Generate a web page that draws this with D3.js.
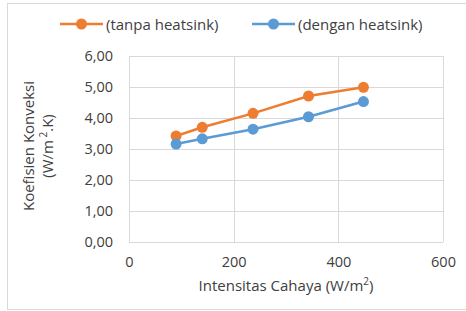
<!DOCTYPE html>
<html>
<head>
<meta charset="utf-8">
<script src="https://cdn.jsdelivr.net/npm/d3@7"></script>
<style>
  body { margin: 0; background: #fff; }
  text { font-family: "Open Sans", "Liberation Sans", sans-serif; fill: #404040; }
</style>
</head>
<body>
<svg id="chart" width="466" height="311"></svg>
<script>
// data
var intensitas = [90, 140, 237, 343, 448];
var tanpaHeatsink = [3.42, 3.70, 4.15, 4.71, 4.99];
var denganHeatsink = [3.16, 3.33, 3.64, 4.04, 4.53];
var seriesNames = ["(tanpa heatsink)", "(dengan heatsink)"];
var seriesColors = ["#ED7D31", "#5B9BD5"];
var xTicks = [0, 200, 400, 600];
var yTicks = [0, 1, 2, 3, 4, 5, 6];

var margin = { top: 56, right: 23, bottom: 69, left: 129 };
var width = 466 - margin.left - margin.right;
var height = 311 - margin.top - margin.bottom;

var svg = d3.select("#chart");

// outer chart border
svg.append("rect")
    .attr("x", 7.5).attr("y", 3.5)
    .attr("width", 470).attr("height", 306)
    .attr("fill", "none").attr("stroke", "#d9d9d9");

var g = svg.append("g").attr("transform", "translate(" + margin.left + "," + margin.top + ")");

var x = d3.scaleLinear().domain([0, 600]).range([0, width]);
var y = d3.scaleLinear().domain([0, 6]).range([height, 0]);

// gridlines
g.append("g").selectAll("line").data(yTicks).enter().append("line")
    .attr("x1", 0).attr("x2", width)
    .attr("y1", function (d) { return Math.round(y(d)) + 0.5; })
    .attr("y2", function (d) { return Math.round(y(d)) + 0.5; })
    .attr("stroke", "#d9d9d9");
g.append("g").selectAll("line").data(xTicks).enter().append("line")
    .attr("y1", 0).attr("y2", height)
    .attr("x1", function (d) { return Math.round(x(d)) + 0.5; })
    .attr("x2", function (d) { return Math.round(x(d)) + 0.5; })
    .attr("stroke", "#d9d9d9");

// axes (labels only)
var yAxis = g.append("g")
    .call(d3.axisLeft(y).tickValues(yTicks).tickSize(0).tickPadding(16)
        .tickFormat(function (d) { return d3.format(".2f")(d).replace(".", ","); }));
var xAxis = g.append("g")
    .attr("transform", "translate(0," + height + ")")
    .call(d3.axisBottom(x).tickValues(xTicks).tickSize(0).tickPadding(15));
[yAxis, xAxis].forEach(function (a) {
    a.select(".domain").remove();
    a.selectAll("text").attr("font-size", 14.5).attr("fill", "#404040")
        .style("font-family", "'Open Sans', 'Liberation Sans', sans-serif");
});

// series
var series = [tanpaHeatsink, denganHeatsink];
var line = d3.line()
    .x(function (d, i) { return x(intensitas[i]); })
    .y(function (d) { return y(d); });

series.forEach(function (vals, k) {
    g.append("path").datum(vals)
        .attr("d", line)
        .attr("fill", "none")
        .attr("stroke", seriesColors[k])
        .attr("stroke-width", 2.5);
    g.selectAll(".pt" + k).data(vals).enter().append("circle")
        .attr("class", "pt" + k)
        .attr("cx", function (d, i) { return x(intensitas[i]); })
        .attr("cy", function (d) { return y(d); })
        .attr("r", 5.5)
        .attr("fill", seriesColors[k]);
});

// axis titles
svg.append("text")
    .attr("x", 286).attr("y", 291)
    .attr("text-anchor", "middle").attr("font-size", 15)
    .html("Intensitas Cahaya (W/m<tspan dy='-6' font-size='10'>2</tspan><tspan dy='6'>)</tspan>");

var yt = svg.append("text")
    .attr("transform", "translate(30,146) rotate(-90)")
    .attr("text-anchor", "middle").attr("font-size", 15);
yt.append("tspan").attr("x", 0).attr("y", 4).text("Koefisien Konveksi");
yt.append("tspan").attr("x", 0).attr("y", 23).html("(W/m<tspan dy='-6' font-size='10'> 2</tspan><tspan dy='6'>.K)</tspan>");

// legend
var legendX = [60, 252];
seriesNames.forEach(function (name, k) {
    var lg = svg.append("g").attr("transform", "translate(" + legendX[k] + ",24)");
    lg.append("line").attr("x1", 0).attr("x2", 43).attr("y1", 0).attr("y2", 0)
        .attr("stroke", seriesColors[k]).attr("stroke-width", 2.5);
    lg.append("circle").attr("cx", 21.5).attr("cy", 0).attr("r", 5.5).attr("fill", seriesColors[k]);
    lg.append("text").attr("x", 46).attr("y", 5.5).attr("font-size", 15).text(name);
});
</script>
</body>
</html>
